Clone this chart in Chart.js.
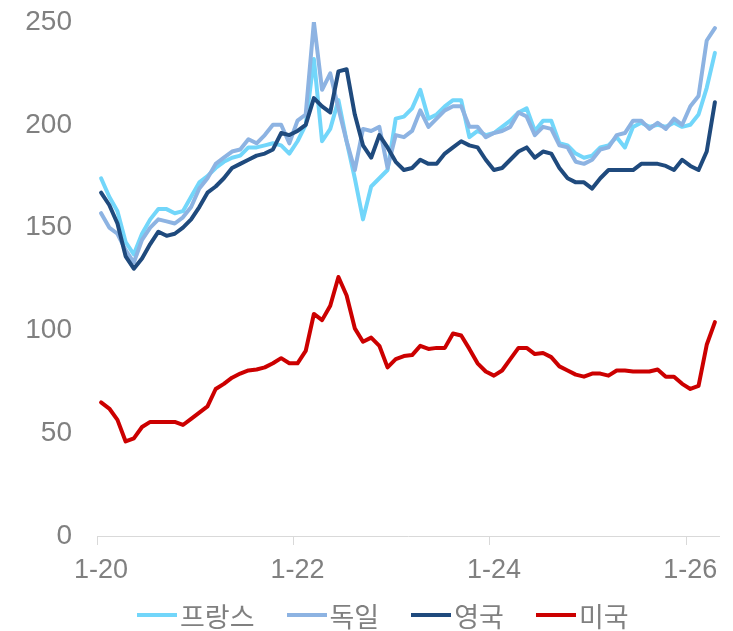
<!DOCTYPE html>
<html lang="ko">
<head>
<meta charset="UTF-8">
<title>프랑스 · 독일 · 영국 · 미국</title>
<script src="https://cdn.jsdelivr.net/npm/chart.js"></script>
<style>
  html, body { margin: 0; padding: 0; background: #fff; overflow: hidden; }
  #wrap { position: relative; width: 733px; height: 631px; }
  #legend {
    position: absolute; left: 137px; top: 600px; height: 30px;
    display: flex; align-items: center;
    font: 27px 'Liberation Sans', 'Noto Sans CJK KR', sans-serif; color: #808080;
  }
  #legend .item { display: flex; align-items: center; margin-right: 32px; }
  #legend .swatch { width: 40px; height: 4px; margin-right: 3px; }
</style>
</head>
<body>
<div id="wrap">
  <canvas id="chart"></canvas>
  <div id="legend"></div>
</div>
<script>
// 월별 라벨 (2020년 1월 ~ 2026년 4월)
const months = [
  '1-20','2-20','3-20','4-20','5-20','6-20','7-20','8-20','9-20','10-20','11-20','12-20',
  '1-21','2-21','3-21','4-21','5-21','6-21','7-21','8-21','9-21','10-21','11-21','12-21',
  '1-22','2-22','3-22','4-22','5-22','6-22','7-22','8-22','9-22','10-22','11-22','12-22',
  '1-23','2-23','3-23','4-23','5-23','6-23','7-23','8-23','9-23','10-23','11-23','12-23',
  '1-24','2-24','3-24','4-24','5-24','6-24','7-24','8-24','9-24','10-24','11-24','12-24',
  '1-25','2-25','3-25','4-25','5-25','6-25','7-25','8-25','9-25','10-25','11-25','12-25',
  '1-26','2-26','3-26','4-26'
];
// 축에 표시할 라벨
const shownTicks = ['1-20', '1-22', '1-24', '1-26'];

const france = [
  174, 165, 158, 143, 137, 147, 154, 159, 159, 157, 158, 165,
  172, 175, 179, 182, 184, 185, 189, 189, 190, 191, 190, 186,
  192, 200, 232, 192, 198, 212, 192, 174, 154, 170, 174, 178,
  203, 204, 208, 217, 203, 205, 209, 212, 212, 194, 197, 195,
  196, 199, 202, 206, 208, 197, 202, 202, 191, 190, 186, 184,
  185, 189, 190, 194, 189, 199, 201, 199, 200, 199, 201, 199,
  200, 205, 218, 235
];
const germany = [
  157, 150, 147, 139, 133, 144, 150, 154, 153, 152, 155, 160,
  169, 174, 181, 184, 187, 188, 193, 191, 195, 200, 200, 191,
  202, 205, 250, 217, 225, 208, 192, 178, 198, 197, 199, 179,
  195, 194, 197, 207, 199, 203, 207, 209, 209, 199, 199, 194,
  196, 197, 199, 206, 204, 195, 199, 198, 190, 189, 182, 181,
  183, 188, 189, 195, 196, 202, 202, 198, 201, 198, 203, 200,
  209, 214, 241, 247
];
const uk = [
  167, 161, 152, 136, 130, 135, 142, 148, 146, 147, 150, 154,
  160, 167, 170, 174, 179, 181, 183, 185, 186, 188, 196, 195,
  197, 200, 213, 209, 206, 226, 227, 205, 190, 184, 195, 189,
  182, 178, 179, 183, 181, 181, 186, 189, 192, 190, 189, 183,
  178, 179, 183, 187, 189, 184, 187, 186, 179, 174, 172, 172,
  169, 174, 178, 178, 178, 178, 181, 181, 181, 180, 178, 183,
  180, 178, 187, 211
];
const usa = [
  65, 62, 56.5, 46, 47.5, 53, 55.5, 55.5, 55.5, 55.5, 54, 57,
  60, 63, 71.5, 74, 77, 79, 80.5, 81, 82, 84, 86.5, 84,
  84, 90, 108, 105, 112, 126, 117, 101, 94.5, 96.5, 92.5, 82,
  86, 87.5, 88, 92.5, 91, 91.5, 91.5, 98.5, 97.5, 91, 84, 80,
  78, 80.5, 86, 91.5, 91.5, 88.5, 89, 87, 82.5, 80.5, 78.5, 77.5,
  79, 79, 78, 80.5, 80.5, 80, 80, 80, 81, 77.5, 77.5, 74,
  71.5, 73, 93, 104
];

const FONT = "'Liberation Sans', 'Noto Sans CJK KR', sans-serif";
const GREY = '#808080';
const AXIS = '#d9d9d9';

function line(label, data, color, order) {
  return {
    label, data, order,
    borderColor: color,
    backgroundColor: color,
    borderWidth: 4,
    borderJoinStyle: 'round',
    borderCapStyle: 'round',
    pointRadius: 0,
    tension: 0
  };
}

const chart = new Chart(document.getElementById('chart'), {
  type: 'line',
  data: {
    labels: months,
    datasets: [
      line('프랑스', france, '#72d6fa', 4),
      line('독일', germany, '#8db3e2', 3),
      line('영국', uk, '#1f4a7d', 2),
      line('미국', usa, '#cc0000', 1)
    ]
  },
  options: {
    responsive: true,
    maintainAspectRatio: false,
    animation: false,
    layout: { padding: { left: 0, right: 14, top: 22, bottom: 40 } },
    plugins: {
      tooltip: { enabled: false },
      legend: { display: false }
    },
    scales: {
      x: {
        offset: true,
        grid: {
          display: true,
          offset: true,
          drawOnChartArea: false,
          drawTicks: true,
          tickLength: 9,
          color: ctx => (ctx.index % 24 === 0 ? AXIS : 'rgba(0,0,0,0)')
        },
        border: { display: true, color: AXIS, width: 1 },
        ticks: {
          autoSkip: false,
          maxRotation: 0,
          padding: 9,
          color: GREY,
          font: { family: FONT, size: 27 },
          callback: function (value) {
            const lbl = this.getLabelForValue(value);
            return shownTicks.includes(lbl) ? lbl : '';
          }
        },
        afterFit: scale => { scale.height = 55; }
      },
      y: {
        min: 0,
        max: 250,
        grid: { display: false },
        border: { display: false },
        ticks: {
          stepSize: 50,
          padding: 17,
          color: GREY,
          font: { family: FONT, size: 28 }
        },
        // 라벨 여백이 플롯 높이를 줄이지 않게 한다
        afterFit: scale => {
          scale.width = 97;
          scale.paddingTop = 0;
          scale.paddingBottom = 0;
        }
      }
    }
  }
});

// 범례: 데이터셋 순서대로 선 견본 + 이름
const legend = document.getElementById('legend');
chart.data.datasets.forEach(ds => {
  const item = document.createElement('div');
  item.className = 'item';
  const sw = document.createElement('span');
  sw.className = 'swatch';
  sw.style.background = ds.borderColor;
  item.appendChild(sw);
  item.appendChild(document.createTextNode(ds.label));
  legend.appendChild(item);
});
</script>
</body>
</html>
